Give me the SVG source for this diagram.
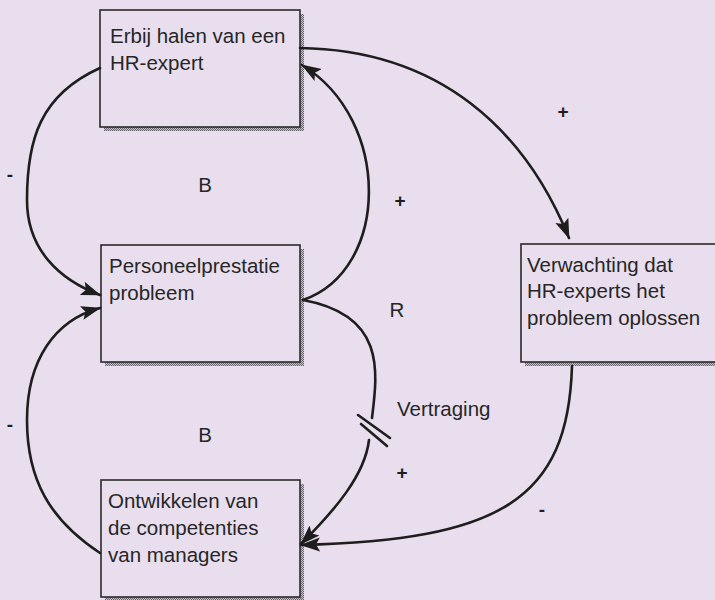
<svg xmlns="http://www.w3.org/2000/svg" width="715" height="600" viewBox="0 0 715 600">
<defs>
<pattern id="stip" width="2" height="2" patternUnits="userSpaceOnUse">
<rect width="2" height="2" fill="#c8c0cc"/>
<rect width="1" height="1" fill="#6a646e"/>
<rect x="1" y="1" width="1" height="1" fill="#6a646e"/>
</pattern>
<marker id="ah" markerUnits="userSpaceOnUse" markerWidth="22" markerHeight="16" refX="19" refY="8" orient="auto">
<path d="M0,1 L20,8 L0,15 L4,8 Z" fill="#1e1e1e"/>
</marker>
<style>
.bg{fill:#e9deee}
.box{fill:#e9deee;stroke:#2a2a2a;stroke-width:1.6}
.sh{fill:url(#stip)}
.t{font-family:"Liberation Sans",Arial,sans-serif;font-size:20.5px;fill:#262626}
.s{font-family:"Liberation Sans",Arial,sans-serif;font-size:19px;font-weight:bold;fill:#1e1e1e}
.c{fill:none;stroke:#1e1e1e;stroke-width:2.6;stroke-linecap:round}
.a{marker-end:url(#ah)}
</style>
</defs>
<rect class="bg" x="0" y="0" width="715" height="600"/>

<g id="node-erbij">
<rect class="sh" x="104" y="14" width="200" height="117"/>
<rect class="box" x="100" y="10" width="200" height="117"/>
<text class="t" x="110" y="43">Erbij halen van een</text>
<text class="t" x="110" y="70">HR-expert</text>
</g>

<g id="node-personeel">
<rect class="sh" x="105" y="249" width="199" height="117"/>
<rect class="box" x="101" y="245" width="199" height="117"/>
<text class="t" x="109" y="273">Personeelprestatie</text>
<text class="t" x="109" y="300">probleem</text>
</g>

<g id="node-ontwikkelen">
<rect class="sh" x="105" y="484" width="199" height="117"/>
<rect class="box" x="101" y="480" width="199" height="117"/>
<text class="t" x="108" y="508">Ontwikkelen van</text>
<text class="t" x="108" y="535">de competenties</text>
<text class="t" x="108" y="562">van managers</text>
</g>

<g id="node-verwachting">
<rect class="sh" x="525" y="248" width="200" height="118"/>
<rect class="box" x="521" y="244" width="200" height="118"/>
<text class="t" x="527" y="272">Verwachting dat</text>
<text class="t" x="527" y="298">HR-experts het</text>
<text class="t" x="527" y="325">probleem oplossen</text>
</g>

<g id="connectors">
<path class="c a" d="M300,48 C440,50 525,130 569,238"/>
<path class="c a" d="M303,300 C390,270 392,120 302,65"/>
<path class="c a" d="M100,68 C40,95 27,140 27,200 C27,250 60,280 100,295"/>
<path class="c a" d="M100,553 C50,520 27,480 27,420 C27,360 55,320 100,308"/>
<path class="c" d="M303,300 C385,315 378,370 372,418"/>
<path class="c a" d="M369,440 C365,475 335,510 301,544"/>
<line class="c" x1="358" y1="415" x2="390" y2="438"/>
<line class="c" x1="361" y1="424" x2="387" y2="446"/>
<path class="c a" d="M572,366 C568,500 500,540 301,545"/>
</g>

<g id="labels">
<text class="s" x="563" y="118" text-anchor="middle">+</text>
<text class="s" x="400" y="207" text-anchor="middle">+</text>
<text class="s" x="402" y="479" text-anchor="middle">+</text>
<text class="s" x="10" y="181" text-anchor="middle">-</text>
<text class="s" x="10" y="431" text-anchor="middle">-</text>
<text class="s" x="542" y="516" text-anchor="middle">-</text>
<text class="t" x="205" y="192" text-anchor="middle">B</text>
<text class="t" x="205" y="442" text-anchor="middle">B</text>
<text class="t" x="397" y="317" text-anchor="middle">R</text>
<text class="t" x="397" y="416">Vertraging</text>
</g>
</svg>
